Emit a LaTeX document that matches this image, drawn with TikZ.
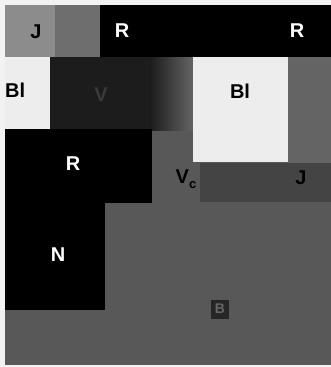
\documentclass[tikz,border=0pt]{standalone}
\usepackage{fontspec}
\setmainfont{Liberation Sans}
\definecolor{bgpaper}{HTML}{F2F2F2}
\definecolor{midgrey}{HTML}{585858}
\definecolor{jgrey}{HTML}{8C8C8C}
\definecolor{cellgrey}{HTML}{6E6E6E}
\definecolor{vdark}{HTML}{1C1C1C}
\definecolor{rightgrey}{HTML}{646464}
\definecolor{bandgrey}{HTML}{444444}
\definecolor{paleblock}{HTML}{EDEDED}
\definecolor{vtext}{HTML}{3A3A3A}
\tikzset{
  region/.style={draw=none},
  lab/.style={font=\bfseries\fontsize{20}{20}\selectfont, inner sep=0pt},
}
\begin{document}
\begin{tikzpicture}[x=1pt,y=-1pt]
\useasboundingbox (0,0) rectangle (331,367);
\fill[bgpaper] (0,0) rectangle (331,367);
% background
\fill[midgrey] (5,5) rectangle (331,365);
% top row
\fill[jgrey] (5,5) rectangle (55,57);
\fill[cellgrey] (55,5) rectangle (100,57);
\fill[black] (100,5) rectangle (331,57);
% second row
\fill[paleblock] (5,57) rectangle (50,129);
\fill[vdark] (50,57) rectangle (150,130);
\shade[left color=vdark, right color=rightgrey] (150,57) rectangle (193,130);
\fill[paleblock] (193,57) rectangle (288,162);
\fill[rightgrey] (288,57) rectangle (331,163);
% band V_c ... J
\fill[bandgrey] (200,163) rectangle (331,202);
% R and N blocks
\fill[black] (5,129) rectangle (152,203);
\fill[black] (5,203) rectangle (105,310);
% B marker
\fill[black!85] (211,300) rectangle (229,319);
% labels
\node[lab, text=black] (jtop) at (36,32) {J};
\node[lab, text=white] (rtop) at (122,31) {R};
\node[lab, text=white] (rright) at (297,31) {R};
\node[lab, text=black, anchor=west] (blleft) at (5,90) {Bl};
\node[lab, text=vtext] (vmid) at (101,95) {V};
\node[lab, text=black] (blbig) at (240,91) {Bl};
\node[lab, text=white] (rmid) at (73,164) {R};
\node[lab, text=white] (nlab) at (58,255) {N};
\node[lab, text=black] (vc) at (186,179) {V\raisebox{-0.45ex}{\fontsize{13}{13}\selectfont c}};
\node[lab, text=black] (jright) at (301,178) {J};
\node[lab, text=black!60, font=\bfseries\fontsize{14}{14}\selectfont] (blab) at (220,309) {B};
\end{tikzpicture}
\end{document}
